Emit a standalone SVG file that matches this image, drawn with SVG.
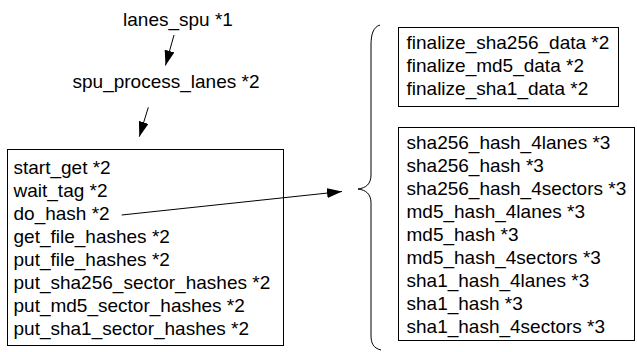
<svg xmlns="http://www.w3.org/2000/svg" width="637" height="352" viewBox="0 0 637 352">
<defs>
<marker id="arr" viewBox="0 0 15 10" refX="15" refY="5" markerWidth="15" markerHeight="10" markerUnits="userSpaceOnUse" orient="auto">
<path d="M0,0 L15,5 L0,10 Z" fill="#000"/>
</marker>
<style>
text{font-family:"Liberation Sans",Arial,Helvetica,sans-serif;font-size:19px;fill:#000}
.box{fill:#fff;stroke:#000;stroke-width:1}
.edge{fill:none;stroke:#000;stroke-width:1}
</style>
</defs>
<rect width="637" height="352" fill="#fff"/>
<g id="lanes_spu"><text x="178" y="26" text-anchor="middle">lanes_spu *1</text></g>
<g id="spu_process_lanes"><text x="166" y="87.5" text-anchor="middle">spu_process_lanes *2</text></g>
<g id="left_box">
<rect class="box" x="7.5" y="149.5" width="276" height="196"/>
<text x="13.5" y="174">start_get *2</text>
<text x="13.5" y="197">wait_tag *2</text>
<text x="13.5" y="220">do_hash *2</text>
<text x="13.5" y="243">get_file_hashes *2</text>
<text x="13.5" y="266">put_file_hashes *2</text>
<text x="13.5" y="289">put_sha256_sector_hashes *2</text>
<text x="13.5" y="312">put_md5_sector_hashes *2</text>
<text x="13.5" y="335">put_sha1_sector_hashes *2</text>
</g>
<g id="finalize_box">
<rect class="box" x="398.5" y="27.5" width="220" height="79"/>
<text x="406.5" y="48.5">finalize_sha256_data *2</text>
<text x="406.5" y="71.5">finalize_md5_data *2</text>
<text x="406.5" y="94.5">finalize_sha1_data *2</text>
</g>
<g id="hash_box">
<rect class="box" x="398.5" y="127.5" width="236" height="213"/>
<text x="406.5" y="149">sha256_hash_4lanes *3</text>
<text x="406.5" y="172">sha256_hash *3</text>
<text x="406.5" y="195">sha256_hash_4sectors *3</text>
<text x="406.5" y="218">md5_hash_4lanes *3</text>
<text x="406.5" y="241">md5_hash *3</text>
<text x="406.5" y="264">md5_hash_4sectors *3</text>
<text x="406.5" y="287">sha1_hash_4lanes *3</text>
<text x="406.5" y="310">sha1_hash *3</text>
<text x="406.5" y="333">sha1_hash_4sectors *3</text>
</g>
<g id="brace">
<path class="edge" d="M380,25 C373,27 371,35 371,45 L371,175 C371,184 366,188 358,189 C366,190 371,194 371,203 L371,335 C371,343 373,348 381,350"/>
</g>
<g id="connectors">
<line class="edge" x1="174" y1="35" x2="165.5" y2="65.5" marker-end="url(#arr)"/>
<line class="edge" x1="148.3" y1="107.3" x2="139.3" y2="136.7" marker-end="url(#arr)"/>
<line class="edge" x1="121.7" y1="215" x2="342" y2="191.5" marker-end="url(#arr)"/>
</g>
</svg>
